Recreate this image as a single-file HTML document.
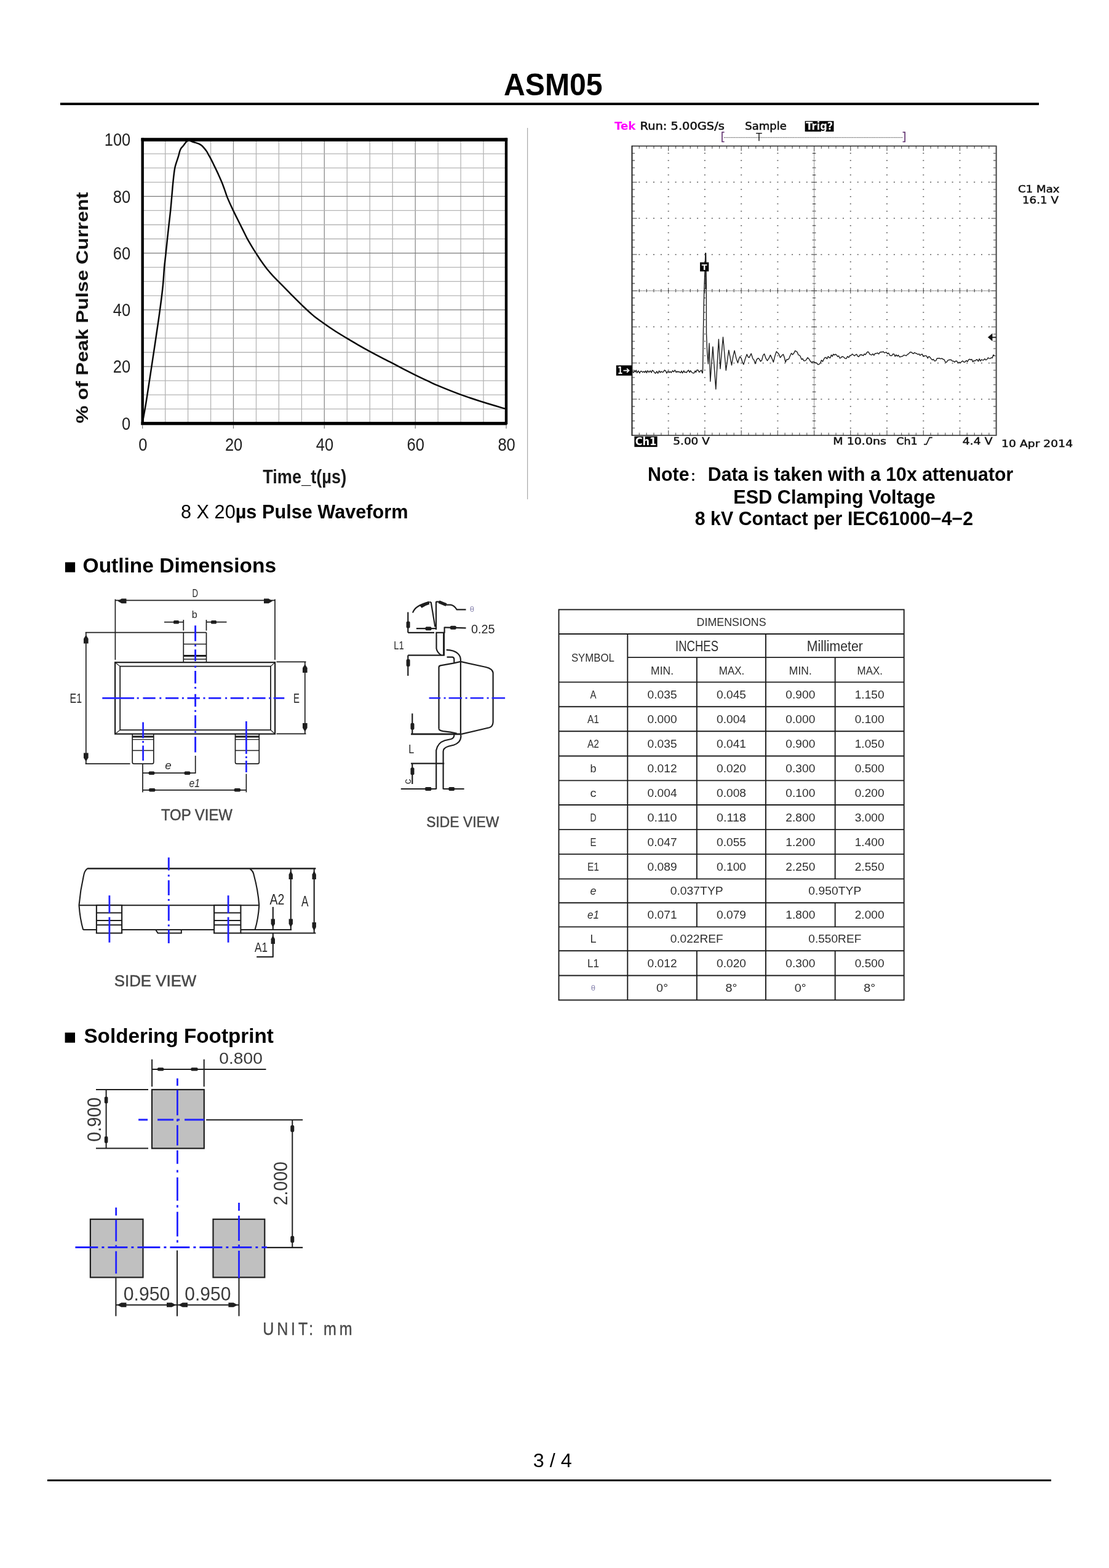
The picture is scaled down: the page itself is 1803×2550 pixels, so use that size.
<!DOCTYPE html>
<html lang="en"><head><meta charset="utf-8"><title>ASM05 - page 3</title>
<style>
html,body{margin:0;padding:0;background:#fff;}
body{width:1803px;height:2550px;overflow:hidden;font-family:"Liberation Sans",Arial,sans-serif;}
svg{display:block;font-family:"Liberation Sans",Arial,sans-serif;}
</style></head><body>
<svg width="1803" height="2550" viewBox="0 0 1803 2550">
<rect width="1803" height="2550" fill="#fff"/>
<g id="sec_chart">
<text x="899.3" y="155.3" font-size="50" fill="#000" font-weight="bold" text-anchor="middle" textLength="160.7" lengthAdjust="spacingAndGlyphs">ASM05</text>
<rect x="98.0" y="167.0" width="1591.0" height="4.0" fill="#000" stroke="none" stroke-width="1" />
<rect x="857.0" y="208.0" width="1.2" height="604.0" fill="#a8a8a8" stroke="none" stroke-width="1" />
<line x1="268.7" y1="227.1" x2="268.7" y2="688.3" stroke="#b4b4b4" stroke-width="1.3" />
<line x1="305.6" y1="227.1" x2="305.6" y2="688.3" stroke="#b4b4b4" stroke-width="1.3" />
<line x1="342.6" y1="227.1" x2="342.6" y2="688.3" stroke="#b4b4b4" stroke-width="1.3" />
<line x1="379.5" y1="227.1" x2="379.5" y2="688.3" stroke="#8c8c8c" stroke-width="1.3" />
<line x1="416.5" y1="227.1" x2="416.5" y2="688.3" stroke="#b4b4b4" stroke-width="1.3" />
<line x1="453.4" y1="227.1" x2="453.4" y2="688.3" stroke="#b4b4b4" stroke-width="1.3" />
<line x1="490.4" y1="227.1" x2="490.4" y2="688.3" stroke="#b4b4b4" stroke-width="1.3" />
<line x1="527.3" y1="227.1" x2="527.3" y2="688.3" stroke="#8c8c8c" stroke-width="1.3" />
<line x1="564.3" y1="227.1" x2="564.3" y2="688.3" stroke="#b4b4b4" stroke-width="1.3" />
<line x1="601.3" y1="227.1" x2="601.3" y2="688.3" stroke="#b4b4b4" stroke-width="1.3" />
<line x1="638.2" y1="227.1" x2="638.2" y2="688.3" stroke="#b4b4b4" stroke-width="1.3" />
<line x1="675.2" y1="227.1" x2="675.2" y2="688.3" stroke="#8c8c8c" stroke-width="1.3" />
<line x1="712.1" y1="227.1" x2="712.1" y2="688.3" stroke="#b4b4b4" stroke-width="1.3" />
<line x1="749.1" y1="227.1" x2="749.1" y2="688.3" stroke="#b4b4b4" stroke-width="1.3" />
<line x1="786.0" y1="227.1" x2="786.0" y2="688.3" stroke="#b4b4b4" stroke-width="1.3" />
<line x1="231.7" y1="665.2" x2="823.0" y2="665.2" stroke="#b4b4b4" stroke-width="1.3" />
<line x1="231.7" y1="642.2" x2="823.0" y2="642.2" stroke="#b4b4b4" stroke-width="1.3" />
<line x1="231.7" y1="619.1" x2="823.0" y2="619.1" stroke="#b4b4b4" stroke-width="1.3" />
<line x1="231.7" y1="596.1" x2="823.0" y2="596.1" stroke="#7a7a7a" stroke-width="1.3" />
<line x1="231.7" y1="573.0" x2="823.0" y2="573.0" stroke="#b4b4b4" stroke-width="1.3" />
<line x1="231.7" y1="549.9" x2="823.0" y2="549.9" stroke="#b4b4b4" stroke-width="1.3" />
<line x1="231.7" y1="526.9" x2="823.0" y2="526.9" stroke="#b4b4b4" stroke-width="1.3" />
<line x1="231.7" y1="503.8" x2="823.0" y2="503.8" stroke="#7a7a7a" stroke-width="1.3" />
<line x1="231.7" y1="480.8" x2="823.0" y2="480.8" stroke="#b4b4b4" stroke-width="1.3" />
<line x1="231.7" y1="457.7" x2="823.0" y2="457.7" stroke="#b4b4b4" stroke-width="1.3" />
<line x1="231.7" y1="434.6" x2="823.0" y2="434.6" stroke="#b4b4b4" stroke-width="1.3" />
<line x1="231.7" y1="411.6" x2="823.0" y2="411.6" stroke="#7a7a7a" stroke-width="1.3" />
<line x1="231.7" y1="388.5" x2="823.0" y2="388.5" stroke="#b4b4b4" stroke-width="1.3" />
<line x1="231.7" y1="365.5" x2="823.0" y2="365.5" stroke="#b4b4b4" stroke-width="1.3" />
<line x1="231.7" y1="342.4" x2="823.0" y2="342.4" stroke="#b4b4b4" stroke-width="1.3" />
<line x1="231.7" y1="319.3" x2="823.0" y2="319.3" stroke="#7a7a7a" stroke-width="1.3" />
<line x1="231.7" y1="296.3" x2="823.0" y2="296.3" stroke="#b4b4b4" stroke-width="1.3" />
<line x1="231.7" y1="273.2" x2="823.0" y2="273.2" stroke="#b4b4b4" stroke-width="1.3" />
<line x1="231.7" y1="250.2" x2="823.0" y2="250.2" stroke="#b4b4b4" stroke-width="1.3" />
<path d="M231.9,686.0 C232.9,680.3 235.3,668.4 237.9,652.0 C240.5,635.6 244.4,609.7 247.7,587.9 C251.0,566.1 254.8,540.9 257.6,521.3 C260.4,501.6 262.7,484.4 264.3,470.0 C265.9,455.6 266.2,444.7 267.1,435.1 C268.0,425.5 268.8,420.2 269.6,412.4 C270.4,404.6 271.3,396.0 272.1,388.2 C272.9,380.4 273.8,373.0 274.6,365.6 C275.4,358.2 276.3,351.3 277.1,343.6 C277.9,335.9 278.6,327.2 279.3,319.5 C280.0,311.8 280.5,304.9 281.3,297.1 C282.1,289.3 282.9,280.0 284.3,272.9 C285.8,265.8 288.7,258.9 290.0,254.4 C291.3,249.9 291.5,248.3 292.2,246.1 C292.9,243.9 293.5,242.6 294.4,241.1 C295.3,239.6 296.7,238.6 297.8,237.2 C298.9,235.8 300.1,234.1 301.1,232.8 C302.1,231.5 302.8,230.3 303.9,229.6 C305.0,228.9 306.1,228.5 307.5,228.6 C308.9,228.7 310.5,229.8 312.2,230.3 C313.9,230.9 315.8,231.3 317.7,231.9 C319.6,232.5 321.6,233.1 323.3,233.9 C325.0,234.7 326.2,235.4 327.7,236.6 C329.2,237.8 330.7,239.5 332.1,241.1 C333.5,242.7 334.9,244.5 336.0,246.1 C337.1,247.7 337.5,248.9 338.6,250.8 C339.7,252.7 341.1,255.2 342.4,257.7 C343.7,260.2 345.4,263.5 346.6,266.0 C347.8,268.5 348.3,269.5 349.8,272.6 C351.3,275.7 353.6,280.4 355.4,284.4 C357.2,288.4 359.2,292.8 360.8,296.8 C362.4,300.8 363.8,304.8 365.2,308.6 C366.6,312.4 367.5,315.8 369.0,319.6 C370.5,323.4 372.3,327.4 374.0,331.2 C375.7,335.0 376.8,337.5 379.3,342.6 C381.8,347.7 386.1,356.4 388.8,361.8 C391.5,367.2 393.3,370.7 395.5,375.1 C397.7,379.5 399.6,383.8 402.1,388.4 C404.6,392.9 407.9,398.4 410.3,402.4 C412.7,406.4 414.1,408.6 416.6,412.4 C419.1,416.2 422.2,421.2 425.1,425.3 C428.0,429.4 430.8,433.4 433.9,437.2 C437.0,441.0 440.2,444.7 443.5,448.3 C446.8,451.9 448.7,453.7 453.5,458.6 C458.3,463.5 465.9,471.4 472.1,477.6 C478.3,483.8 484.4,490.1 490.5,495.9 C496.6,501.7 502.6,507.6 508.7,512.6 C514.8,517.7 520.9,521.8 527.0,526.2 C533.1,530.6 539.3,534.8 545.4,538.8 C551.5,542.8 557.5,546.2 563.6,549.9 C569.7,553.6 575.9,557.2 582.1,560.8 C588.3,564.4 594.6,567.9 600.9,571.3 C607.2,574.7 613.6,578.1 619.8,581.3 C626.0,584.5 631.9,587.4 638.0,590.6 C644.1,593.8 650.2,597.2 656.4,600.4 C662.6,603.6 668.6,606.6 675.1,609.8 C681.6,613.0 689.0,616.5 695.2,619.4 C701.4,622.3 703.1,623.5 712.1,627.2 C721.1,631.0 736.9,637.4 749.3,641.9 C761.7,646.4 774.4,650.5 786.4,654.3 C798.4,658.1 815.2,662.9 821.0,664.6" stroke="#0a0a0a" stroke-width="2.5" fill="none" stroke-linejoin="round"/>
<rect x="229.5" y="224.3" width="595.7" height="5.6" fill="#000" stroke="none" stroke-width="1" rx="1"/>
<rect x="229.5" y="224.3" width="4.4" height="466.7" fill="#000" stroke="none" stroke-width="1" />
<rect x="820.8" y="224.3" width="4.4" height="465.7" fill="#000" stroke="none" stroke-width="1" />
<rect x="229.5" y="686.0" width="594.7" height="5.3" fill="#000" stroke="none" stroke-width="1" />
<rect x="231.1" y="691.0" width="1.2" height="6.0" fill="#777" stroke="none" stroke-width="1" />
<rect x="378.9" y="691.0" width="1.2" height="6.0" fill="#777" stroke="none" stroke-width="1" />
<rect x="526.7" y="691.0" width="1.2" height="6.0" fill="#777" stroke="none" stroke-width="1" />
<rect x="674.6" y="691.0" width="1.2" height="6.0" fill="#777" stroke="none" stroke-width="1" />
<rect x="822.4" y="691.0" width="1.2" height="6.0" fill="#777" stroke="none" stroke-width="1" />
<text x="212.2" y="698.5" font-size="30.2" fill="#222" text-anchor="end" textLength="14.2" lengthAdjust="spacingAndGlyphs">0</text>
<text x="212.2" y="606.3" font-size="30.2" fill="#222" text-anchor="end" textLength="28.4" lengthAdjust="spacingAndGlyphs">20</text>
<text x="212.2" y="514.0" font-size="30.2" fill="#222" text-anchor="end" textLength="28.4" lengthAdjust="spacingAndGlyphs">40</text>
<text x="212.2" y="421.8" font-size="30.2" fill="#222" text-anchor="end" textLength="28.4" lengthAdjust="spacingAndGlyphs">60</text>
<text x="212.2" y="329.5" font-size="30.2" fill="#222" text-anchor="end" textLength="28.4" lengthAdjust="spacingAndGlyphs">80</text>
<text x="212.2" y="237.3" font-size="30.2" fill="#222" text-anchor="end" textLength="42.4" lengthAdjust="spacingAndGlyphs">100</text>
<text x="232.3" y="732.6" font-size="30.4" fill="#222" text-anchor="middle" textLength="14.2" lengthAdjust="spacingAndGlyphs">0</text>
<text x="380.1" y="732.6" font-size="30.4" fill="#222" text-anchor="middle" textLength="28.4" lengthAdjust="spacingAndGlyphs">20</text>
<text x="527.9" y="732.6" font-size="30.4" fill="#222" text-anchor="middle" textLength="28.4" lengthAdjust="spacingAndGlyphs">40</text>
<text x="675.8" y="732.6" font-size="30.4" fill="#222" text-anchor="middle" textLength="28.4" lengthAdjust="spacingAndGlyphs">60</text>
<text x="823.6" y="732.6" font-size="30.4" fill="#222" text-anchor="middle" textLength="28.4" lengthAdjust="spacingAndGlyphs">80</text>
<text x="495.2" y="785.6" font-size="31" fill="#1a1a1a" font-weight="bold" text-anchor="middle" textLength="136.0" lengthAdjust="spacingAndGlyphs">Time_t(µs)</text>
<g transform="translate(142.5,688.5) rotate(-90)"><text x="0.0" y="0.0" font-size="27.2" fill="#111" font-weight="bold" textLength="376.0" lengthAdjust="spacingAndGlyphs">% of Peak Pulse Current</text></g>
<text x="294.0" y="842.5" font-size="30.5" fill="#000" textLength="369.5" lengthAdjust="spacingAndGlyphs">8 X 20<tspan font-weight="bold">µs Pulse Waveform</tspan></text>
</g>
<g id="sec_scope">
<path d="M1085.7,249.3h2M1085.7,261.0h2M1085.7,272.8h2M1085.7,284.6h2M1085.7,296.3h2M1085.7,308.1h2M1085.7,319.8h2M1085.7,331.6h2M1085.7,343.4h2M1085.7,355.1h2M1085.7,366.9h2M1085.7,378.6h2M1085.7,390.4h2M1085.7,402.2h2M1085.7,413.9h2M1085.7,425.7h2M1085.7,437.5h2M1085.7,449.2h2M1085.7,461.0h2M1085.7,472.8h2M1085.7,484.5h2M1085.7,496.3h2M1085.7,508.0h2M1085.7,519.8h2M1085.7,531.6h2M1085.7,543.3h2M1085.7,555.1h2M1085.7,566.8h2M1085.7,578.6h2M1085.7,590.4h2M1085.7,602.1h2M1085.7,613.9h2M1085.7,625.7h2M1085.7,637.4h2M1085.7,649.2h2M1085.7,661.0h2M1085.7,672.7h2M1085.7,684.5h2M1085.7,696.2h2M1144.9,249.3h2M1144.9,261.0h2M1144.9,272.8h2M1144.9,284.6h2M1144.9,296.3h2M1144.9,308.1h2M1144.9,319.8h2M1144.9,331.6h2M1144.9,343.4h2M1144.9,355.1h2M1144.9,366.9h2M1144.9,378.6h2M1144.9,390.4h2M1144.9,402.2h2M1144.9,413.9h2M1144.9,425.7h2M1144.9,437.5h2M1144.9,449.2h2M1144.9,461.0h2M1144.9,472.8h2M1144.9,484.5h2M1144.9,496.3h2M1144.9,508.0h2M1144.9,519.8h2M1144.9,531.6h2M1144.9,543.3h2M1144.9,555.1h2M1144.9,566.8h2M1144.9,578.6h2M1144.9,590.4h2M1144.9,602.1h2M1144.9,613.9h2M1144.9,625.7h2M1144.9,637.4h2M1144.9,649.2h2M1144.9,661.0h2M1144.9,672.7h2M1144.9,684.5h2M1144.9,696.2h2M1204.2,249.3h2M1204.2,261.0h2M1204.2,272.8h2M1204.2,284.6h2M1204.2,296.3h2M1204.2,308.1h2M1204.2,319.8h2M1204.2,331.6h2M1204.2,343.4h2M1204.2,355.1h2M1204.2,366.9h2M1204.2,378.6h2M1204.2,390.4h2M1204.2,402.2h2M1204.2,413.9h2M1204.2,425.7h2M1204.2,437.5h2M1204.2,449.2h2M1204.2,461.0h2M1204.2,472.8h2M1204.2,484.5h2M1204.2,496.3h2M1204.2,508.0h2M1204.2,519.8h2M1204.2,531.6h2M1204.2,543.3h2M1204.2,555.1h2M1204.2,566.8h2M1204.2,578.6h2M1204.2,590.4h2M1204.2,602.1h2M1204.2,613.9h2M1204.2,625.7h2M1204.2,637.4h2M1204.2,649.2h2M1204.2,661.0h2M1204.2,672.7h2M1204.2,684.5h2M1204.2,696.2h2M1263.4,249.3h2M1263.4,261.0h2M1263.4,272.8h2M1263.4,284.6h2M1263.4,296.3h2M1263.4,308.1h2M1263.4,319.8h2M1263.4,331.6h2M1263.4,343.4h2M1263.4,355.1h2M1263.4,366.9h2M1263.4,378.6h2M1263.4,390.4h2M1263.4,402.2h2M1263.4,413.9h2M1263.4,425.7h2M1263.4,437.5h2M1263.4,449.2h2M1263.4,461.0h2M1263.4,472.8h2M1263.4,484.5h2M1263.4,496.3h2M1263.4,508.0h2M1263.4,519.8h2M1263.4,531.6h2M1263.4,543.3h2M1263.4,555.1h2M1263.4,566.8h2M1263.4,578.6h2M1263.4,590.4h2M1263.4,602.1h2M1263.4,613.9h2M1263.4,625.7h2M1263.4,637.4h2M1263.4,649.2h2M1263.4,661.0h2M1263.4,672.7h2M1263.4,684.5h2M1263.4,696.2h2M1381.8,249.3h2M1381.8,261.0h2M1381.8,272.8h2M1381.8,284.6h2M1381.8,296.3h2M1381.8,308.1h2M1381.8,319.8h2M1381.8,331.6h2M1381.8,343.4h2M1381.8,355.1h2M1381.8,366.9h2M1381.8,378.6h2M1381.8,390.4h2M1381.8,402.2h2M1381.8,413.9h2M1381.8,425.7h2M1381.8,437.5h2M1381.8,449.2h2M1381.8,461.0h2M1381.8,472.8h2M1381.8,484.5h2M1381.8,496.3h2M1381.8,508.0h2M1381.8,519.8h2M1381.8,531.6h2M1381.8,543.3h2M1381.8,555.1h2M1381.8,566.8h2M1381.8,578.6h2M1381.8,590.4h2M1381.8,602.1h2M1381.8,613.9h2M1381.8,625.7h2M1381.8,637.4h2M1381.8,649.2h2M1381.8,661.0h2M1381.8,672.7h2M1381.8,684.5h2M1381.8,696.2h2M1441.0,249.3h2M1441.0,261.0h2M1441.0,272.8h2M1441.0,284.6h2M1441.0,296.3h2M1441.0,308.1h2M1441.0,319.8h2M1441.0,331.6h2M1441.0,343.4h2M1441.0,355.1h2M1441.0,366.9h2M1441.0,378.6h2M1441.0,390.4h2M1441.0,402.2h2M1441.0,413.9h2M1441.0,425.7h2M1441.0,437.5h2M1441.0,449.2h2M1441.0,461.0h2M1441.0,472.8h2M1441.0,484.5h2M1441.0,496.3h2M1441.0,508.0h2M1441.0,519.8h2M1441.0,531.6h2M1441.0,543.3h2M1441.0,555.1h2M1441.0,566.8h2M1441.0,578.6h2M1441.0,590.4h2M1441.0,602.1h2M1441.0,613.9h2M1441.0,625.7h2M1441.0,637.4h2M1441.0,649.2h2M1441.0,661.0h2M1441.0,672.7h2M1441.0,684.5h2M1441.0,696.2h2M1500.3,249.3h2M1500.3,261.0h2M1500.3,272.8h2M1500.3,284.6h2M1500.3,296.3h2M1500.3,308.1h2M1500.3,319.8h2M1500.3,331.6h2M1500.3,343.4h2M1500.3,355.1h2M1500.3,366.9h2M1500.3,378.6h2M1500.3,390.4h2M1500.3,402.2h2M1500.3,413.9h2M1500.3,425.7h2M1500.3,437.5h2M1500.3,449.2h2M1500.3,461.0h2M1500.3,472.8h2M1500.3,484.5h2M1500.3,496.3h2M1500.3,508.0h2M1500.3,519.8h2M1500.3,531.6h2M1500.3,543.3h2M1500.3,555.1h2M1500.3,566.8h2M1500.3,578.6h2M1500.3,590.4h2M1500.3,602.1h2M1500.3,613.9h2M1500.3,625.7h2M1500.3,637.4h2M1500.3,649.2h2M1500.3,661.0h2M1500.3,672.7h2M1500.3,684.5h2M1500.3,696.2h2M1559.5,249.3h2M1559.5,261.0h2M1559.5,272.8h2M1559.5,284.6h2M1559.5,296.3h2M1559.5,308.1h2M1559.5,319.8h2M1559.5,331.6h2M1559.5,343.4h2M1559.5,355.1h2M1559.5,366.9h2M1559.5,378.6h2M1559.5,390.4h2M1559.5,402.2h2M1559.5,413.9h2M1559.5,425.7h2M1559.5,437.5h2M1559.5,449.2h2M1559.5,461.0h2M1559.5,472.8h2M1559.5,484.5h2M1559.5,496.3h2M1559.5,508.0h2M1559.5,519.8h2M1559.5,531.6h2M1559.5,543.3h2M1559.5,555.1h2M1559.5,566.8h2M1559.5,578.6h2M1559.5,590.4h2M1559.5,602.1h2M1559.5,613.9h2M1559.5,625.7h2M1559.5,637.4h2M1559.5,649.2h2M1559.5,661.0h2M1559.5,672.7h2M1559.5,684.5h2M1559.5,696.2h2M1038.3,296.3h2M1050.2,296.3h2M1062.0,296.3h2M1073.9,296.3h2M1097.6,296.3h2M1109.4,296.3h2M1121.3,296.3h2M1133.1,296.3h2M1156.8,296.3h2M1168.6,296.3h2M1180.5,296.3h2M1192.3,296.3h2M1216.0,296.3h2M1227.8,296.3h2M1239.7,296.3h2M1251.5,296.3h2M1275.2,296.3h2M1287.1,296.3h2M1298.9,296.3h2M1310.8,296.3h2M1334.4,296.3h2M1346.3,296.3h2M1358.1,296.3h2M1370.0,296.3h2M1393.7,296.3h2M1405.5,296.3h2M1417.4,296.3h2M1429.2,296.3h2M1452.9,296.3h2M1464.7,296.3h2M1476.6,296.3h2M1488.4,296.3h2M1512.1,296.3h2M1523.9,296.3h2M1535.8,296.3h2M1547.6,296.3h2M1571.3,296.3h2M1583.2,296.3h2M1595.0,296.3h2M1606.9,296.3h2M1038.3,355.1h2M1050.2,355.1h2M1062.0,355.1h2M1073.9,355.1h2M1097.6,355.1h2M1109.4,355.1h2M1121.3,355.1h2M1133.1,355.1h2M1156.8,355.1h2M1168.6,355.1h2M1180.5,355.1h2M1192.3,355.1h2M1216.0,355.1h2M1227.8,355.1h2M1239.7,355.1h2M1251.5,355.1h2M1275.2,355.1h2M1287.1,355.1h2M1298.9,355.1h2M1310.8,355.1h2M1334.4,355.1h2M1346.3,355.1h2M1358.1,355.1h2M1370.0,355.1h2M1393.7,355.1h2M1405.5,355.1h2M1417.4,355.1h2M1429.2,355.1h2M1452.9,355.1h2M1464.7,355.1h2M1476.6,355.1h2M1488.4,355.1h2M1512.1,355.1h2M1523.9,355.1h2M1535.8,355.1h2M1547.6,355.1h2M1571.3,355.1h2M1583.2,355.1h2M1595.0,355.1h2M1606.9,355.1h2M1038.3,413.9h2M1050.2,413.9h2M1062.0,413.9h2M1073.9,413.9h2M1097.6,413.9h2M1109.4,413.9h2M1121.3,413.9h2M1133.1,413.9h2M1156.8,413.9h2M1168.6,413.9h2M1180.5,413.9h2M1192.3,413.9h2M1216.0,413.9h2M1227.8,413.9h2M1239.7,413.9h2M1251.5,413.9h2M1275.2,413.9h2M1287.1,413.9h2M1298.9,413.9h2M1310.8,413.9h2M1334.4,413.9h2M1346.3,413.9h2M1358.1,413.9h2M1370.0,413.9h2M1393.7,413.9h2M1405.5,413.9h2M1417.4,413.9h2M1429.2,413.9h2M1452.9,413.9h2M1464.7,413.9h2M1476.6,413.9h2M1488.4,413.9h2M1512.1,413.9h2M1523.9,413.9h2M1535.8,413.9h2M1547.6,413.9h2M1571.3,413.9h2M1583.2,413.9h2M1595.0,413.9h2M1606.9,413.9h2M1038.3,531.6h2M1050.2,531.6h2M1062.0,531.6h2M1073.9,531.6h2M1097.6,531.6h2M1109.4,531.6h2M1121.3,531.6h2M1133.1,531.6h2M1156.8,531.6h2M1168.6,531.6h2M1180.5,531.6h2M1192.3,531.6h2M1216.0,531.6h2M1227.8,531.6h2M1239.7,531.6h2M1251.5,531.6h2M1275.2,531.6h2M1287.1,531.6h2M1298.9,531.6h2M1310.8,531.6h2M1334.4,531.6h2M1346.3,531.6h2M1358.1,531.6h2M1370.0,531.6h2M1393.7,531.6h2M1405.5,531.6h2M1417.4,531.6h2M1429.2,531.6h2M1452.9,531.6h2M1464.7,531.6h2M1476.6,531.6h2M1488.4,531.6h2M1512.1,531.6h2M1523.9,531.6h2M1535.8,531.6h2M1547.6,531.6h2M1571.3,531.6h2M1583.2,531.6h2M1595.0,531.6h2M1606.9,531.6h2M1038.3,590.4h2M1050.2,590.4h2M1062.0,590.4h2M1073.9,590.4h2M1097.6,590.4h2M1109.4,590.4h2M1121.3,590.4h2M1133.1,590.4h2M1156.8,590.4h2M1168.6,590.4h2M1180.5,590.4h2M1192.3,590.4h2M1216.0,590.4h2M1227.8,590.4h2M1239.7,590.4h2M1251.5,590.4h2M1275.2,590.4h2M1287.1,590.4h2M1298.9,590.4h2M1310.8,590.4h2M1334.4,590.4h2M1346.3,590.4h2M1358.1,590.4h2M1370.0,590.4h2M1393.7,590.4h2M1405.5,590.4h2M1417.4,590.4h2M1429.2,590.4h2M1452.9,590.4h2M1464.7,590.4h2M1476.6,590.4h2M1488.4,590.4h2M1512.1,590.4h2M1523.9,590.4h2M1535.8,590.4h2M1547.6,590.4h2M1571.3,590.4h2M1583.2,590.4h2M1595.0,590.4h2M1606.9,590.4h2M1038.3,649.2h2M1050.2,649.2h2M1062.0,649.2h2M1073.9,649.2h2M1097.6,649.2h2M1109.4,649.2h2M1121.3,649.2h2M1133.1,649.2h2M1156.8,649.2h2M1168.6,649.2h2M1180.5,649.2h2M1192.3,649.2h2M1216.0,649.2h2M1227.8,649.2h2M1239.7,649.2h2M1251.5,649.2h2M1275.2,649.2h2M1287.1,649.2h2M1298.9,649.2h2M1310.8,649.2h2M1334.4,649.2h2M1346.3,649.2h2M1358.1,649.2h2M1370.0,649.2h2M1393.7,649.2h2M1405.5,649.2h2M1417.4,649.2h2M1429.2,649.2h2M1452.9,649.2h2M1464.7,649.2h2M1476.6,649.2h2M1488.4,649.2h2M1512.1,649.2h2M1523.9,649.2h2M1535.8,649.2h2M1547.6,649.2h2M1571.3,649.2h2M1583.2,649.2h2M1595.0,649.2h2M1606.9,649.2h2" stroke="#5c5c5c" stroke-width="1.5" fill="none" />
<line x1="1027.5" y1="472.8" x2="1619.7" y2="472.8" stroke="#555" stroke-width="1.3" stroke-dasharray="1.3 1.2"/>
<line x1="1323.6" y1="237.5" x2="1323.6" y2="708.0" stroke="#555" stroke-width="1.3" stroke-dasharray="1.3 1.2"/>
<path d="M1039.3,470.1v5.2M1051.2,470.1v5.2M1063.0,470.1v5.2M1074.9,470.1v5.2M1086.7,468.2v9.0M1098.6,470.1v5.2M1110.4,470.1v5.2M1122.3,470.1v5.2M1134.1,470.1v5.2M1145.9,468.2v9.0M1157.8,470.1v5.2M1169.6,470.1v5.2M1181.5,470.1v5.2M1193.3,470.1v5.2M1205.2,468.2v9.0M1217.0,470.1v5.2M1228.8,470.1v5.2M1240.7,470.1v5.2M1252.5,470.1v5.2M1264.4,468.2v9.0M1276.2,470.1v5.2M1288.1,470.1v5.2M1299.9,470.1v5.2M1311.8,470.1v5.2M1323.6,468.2v9.0M1335.4,470.1v5.2M1347.3,470.1v5.2M1359.1,470.1v5.2M1371.0,470.1v5.2M1382.8,468.2v9.0M1394.7,470.1v5.2M1406.5,470.1v5.2M1418.4,470.1v5.2M1430.2,470.1v5.2M1442.0,468.2v9.0M1453.9,470.1v5.2M1465.7,470.1v5.2M1477.6,470.1v5.2M1489.4,470.1v5.2M1501.3,468.2v9.0M1513.1,470.1v5.2M1524.9,470.1v5.2M1536.8,470.1v5.2M1548.6,470.1v5.2M1560.5,468.2v9.0M1572.3,470.1v5.2M1584.2,470.1v5.2M1596.0,470.1v5.2M1607.9,470.1v5.2M1320.8,249.3h5.6M1320.8,261.0h5.6M1320.8,272.8h5.6M1320.8,284.6h5.6M1319.1,296.3h9.0M1320.8,308.1h5.6M1320.8,319.8h5.6M1320.8,331.6h5.6M1320.8,343.4h5.6M1319.1,355.1h9.0M1320.8,366.9h5.6M1320.8,378.6h5.6M1320.8,390.4h5.6M1320.8,402.2h5.6M1319.1,413.9h9.0M1320.8,425.7h5.6M1320.8,437.5h5.6M1320.8,449.2h5.6M1320.8,461.0h5.6M1319.1,472.8h9.0M1320.8,484.5h5.6M1320.8,496.3h5.6M1320.8,508.0h5.6M1320.8,519.8h5.6M1319.1,531.6h9.0M1320.8,543.3h5.6M1320.8,555.1h5.6M1320.8,566.8h5.6M1320.8,578.6h5.6M1319.1,590.4h9.0M1320.8,602.1h5.6M1320.8,613.9h5.6M1320.8,625.7h5.6M1320.8,637.4h5.6M1319.1,649.2h9.0M1320.8,661.0h5.6M1320.8,672.7h5.6M1320.8,684.5h5.6M1320.8,696.2h5.6" stroke="#555" stroke-width="1.2" fill="none" />
<path d="M1039.3,237.5v4.2M1039.3,708.0v-4.2M1051.2,237.5v4.2M1051.2,708.0v-4.2M1063.0,237.5v4.2M1063.0,708.0v-4.2M1074.9,237.5v4.2M1074.9,708.0v-4.2M1086.7,237.5v8M1086.7,708.0v-8M1098.6,237.5v4.2M1098.6,708.0v-4.2M1110.4,237.5v4.2M1110.4,708.0v-4.2M1122.3,237.5v4.2M1122.3,708.0v-4.2M1134.1,237.5v4.2M1134.1,708.0v-4.2M1145.9,237.5v8M1145.9,708.0v-8M1157.8,237.5v4.2M1157.8,708.0v-4.2M1169.6,237.5v4.2M1169.6,708.0v-4.2M1181.5,237.5v4.2M1181.5,708.0v-4.2M1193.3,237.5v4.2M1193.3,708.0v-4.2M1205.2,237.5v8M1205.2,708.0v-8M1217.0,237.5v4.2M1217.0,708.0v-4.2M1228.8,237.5v4.2M1228.8,708.0v-4.2M1240.7,237.5v4.2M1240.7,708.0v-4.2M1252.5,237.5v4.2M1252.5,708.0v-4.2M1264.4,237.5v8M1264.4,708.0v-8M1276.2,237.5v4.2M1276.2,708.0v-4.2M1288.1,237.5v4.2M1288.1,708.0v-4.2M1299.9,237.5v4.2M1299.9,708.0v-4.2M1311.8,237.5v4.2M1311.8,708.0v-4.2M1323.6,237.5v8M1323.6,708.0v-8M1335.4,237.5v4.2M1335.4,708.0v-4.2M1347.3,237.5v4.2M1347.3,708.0v-4.2M1359.1,237.5v4.2M1359.1,708.0v-4.2M1371.0,237.5v4.2M1371.0,708.0v-4.2M1382.8,237.5v8M1382.8,708.0v-8M1394.7,237.5v4.2M1394.7,708.0v-4.2M1406.5,237.5v4.2M1406.5,708.0v-4.2M1418.4,237.5v4.2M1418.4,708.0v-4.2M1430.2,237.5v4.2M1430.2,708.0v-4.2M1442.0,237.5v8M1442.0,708.0v-8M1453.9,237.5v4.2M1453.9,708.0v-4.2M1465.7,237.5v4.2M1465.7,708.0v-4.2M1477.6,237.5v4.2M1477.6,708.0v-4.2M1489.4,237.5v4.2M1489.4,708.0v-4.2M1501.3,237.5v8M1501.3,708.0v-8M1513.1,237.5v4.2M1513.1,708.0v-4.2M1524.9,237.5v4.2M1524.9,708.0v-4.2M1536.8,237.5v4.2M1536.8,708.0v-4.2M1548.6,237.5v4.2M1548.6,708.0v-4.2M1560.5,237.5v8M1560.5,708.0v-8M1572.3,237.5v4.2M1572.3,708.0v-4.2M1584.2,237.5v4.2M1584.2,708.0v-4.2M1596.0,237.5v4.2M1596.0,708.0v-4.2M1607.9,237.5v4.2M1607.9,708.0v-4.2M1027.5,249.3h4.6M1619.7,249.3h-4.6M1027.5,261.0h4.6M1619.7,261.0h-4.6M1027.5,272.8h4.6M1619.7,272.8h-4.6M1027.5,284.6h4.6M1619.7,284.6h-4.6M1027.5,296.3h8M1619.7,296.3h-8M1027.5,308.1h4.6M1619.7,308.1h-4.6M1027.5,319.8h4.6M1619.7,319.8h-4.6M1027.5,331.6h4.6M1619.7,331.6h-4.6M1027.5,343.4h4.6M1619.7,343.4h-4.6M1027.5,355.1h8M1619.7,355.1h-8M1027.5,366.9h4.6M1619.7,366.9h-4.6M1027.5,378.6h4.6M1619.7,378.6h-4.6M1027.5,390.4h4.6M1619.7,390.4h-4.6M1027.5,402.2h4.6M1619.7,402.2h-4.6M1027.5,413.9h8M1619.7,413.9h-8M1027.5,425.7h4.6M1619.7,425.7h-4.6M1027.5,437.5h4.6M1619.7,437.5h-4.6M1027.5,449.2h4.6M1619.7,449.2h-4.6M1027.5,461.0h4.6M1619.7,461.0h-4.6M1027.5,472.8h8M1619.7,472.8h-8M1027.5,484.5h4.6M1619.7,484.5h-4.6M1027.5,496.3h4.6M1619.7,496.3h-4.6M1027.5,508.0h4.6M1619.7,508.0h-4.6M1027.5,519.8h4.6M1619.7,519.8h-4.6M1027.5,531.6h8M1619.7,531.6h-8M1027.5,543.3h4.6M1619.7,543.3h-4.6M1027.5,555.1h4.6M1619.7,555.1h-4.6M1027.5,566.8h4.6M1619.7,566.8h-4.6M1027.5,578.6h4.6M1619.7,578.6h-4.6M1027.5,590.4h8M1619.7,590.4h-8M1027.5,602.1h4.6M1619.7,602.1h-4.6M1027.5,613.9h4.6M1619.7,613.9h-4.6M1027.5,625.7h4.6M1619.7,625.7h-4.6M1027.5,637.4h4.6M1619.7,637.4h-4.6M1027.5,649.2h8M1619.7,649.2h-8M1027.5,661.0h4.6M1619.7,661.0h-4.6M1027.5,672.7h4.6M1619.7,672.7h-4.6M1027.5,684.5h4.6M1619.7,684.5h-4.6M1027.5,696.2h4.6M1619.7,696.2h-4.6" stroke="#6a6a6a" stroke-width="1.3" fill="none" />
<line x1="1027.5" y1="236.7" x2="1027.5" y2="708.7" stroke="#2a2a2a" stroke-width="2.1" />
<line x1="1027.5" y1="237.5" x2="1619.7" y2="237.5" stroke="#222" stroke-width="1.6" />
<line x1="1027.5" y1="708.0" x2="1619.7" y2="708.0" stroke="#222" stroke-width="1.4" />
<line x1="1619.7" y1="236.7" x2="1619.7" y2="708.7" stroke="#555" stroke-width="2.2" />
<path d="M1028.0,603.7 L1029.9,606.0 L1031.5,602.8 L1032.8,604.9 L1034.2,602.0 L1035.6,606.3 L1037.8,603.1 L1040.0,606.8 L1041.5,603.8 L1043.1,603.6 L1044.9,605.6 L1046.7,604.0 L1048.2,605.8 L1049.8,603.0 L1051.4,606.4 L1052.9,602.8 L1055.0,605.4 L1057.2,603.1 L1059.1,605.9 L1060.5,602.2 L1062.3,603.3 L1064.2,606.1 L1065.9,607.1 L1067.7,603.9 L1069.6,607.2 L1071.6,603.1 L1073.5,605.9 L1075.0,604.0 L1077.0,605.3 L1078.6,604.9 L1080.3,601.9 L1082.4,603.4 L1084.0,606.9 L1086.2,603.7 L1087.7,605.9 L1089.5,604.1 L1091.2,606.1 L1093.4,602.8 L1095.2,604.8 L1097.3,601.9 L1099.4,605.7 L1100.7,603.9 L1102.1,605.1 L1103.7,604.1 L1105.1,605.6 L1106.5,606.2 L1107.9,603.2 L1109.5,606.8 L1111.7,602.9 L1113.1,605.6 L1114.6,605.1 L1116.0,606.0 L1117.4,604.0 L1119.2,601.9 L1121.1,605.6 L1122.5,602.8 L1124.5,605.3 L1126.6,606.8 L1128.6,606.5 L1130.1,603.2 L1131.4,605.4 L1133.0,601.7 L1134.7,601.6 L1136.8,605.3 L1138.3,603.6 L1140.2,602.0 L1141.9,606.7 L1142.3,606.5 L1142.6,600.0 L1143.5,535.5 L1144.7,473.9 L1146.0,440.0 L1146.9,411.7 L1147.6,411.9 L1148.0,440.0 L1148.3,462.8 L1148.5,541.7 L1149.7,572.5 L1151.4,591.8 L1153.0,558.3 L1154.8,620.3 L1158.9,563.9 L1163.8,632.9 L1168.4,551.8 L1171.0,599.8 L1175.5,548.3 L1180.3,602.3 L1184.8,569.5 L1189.5,593.8 L1191.8,579.8 L1194.1,570.1 L1197.0,582.9 L1199.5,590.3 L1201.3,583.7 L1203.2,579.9 L1205.1,582.8 L1207.0,589.2 L1208.9,592.7 L1211.8,582.9 L1214.3,576.2 L1216.1,580.3 L1218.0,581.6 L1221.2,575.0 L1224.1,583.6 L1226.0,585.7 L1227.8,591.5 L1230.3,584.6 L1232.8,582.4 L1234.6,584.2 L1236.5,587.8 L1238.5,585.7 L1240.6,577.9 L1242.6,575.5 L1245.1,582.7 L1247.5,586.6 L1250.0,582.9 L1252.5,577.4 L1254.9,582.6 L1257.4,589.0 L1259.9,578.9 L1262.3,571.8 L1264.4,573.7 L1266.4,576.3 L1268.5,581.6 L1271.0,578.3 L1273.4,576.2 L1275.3,581.5 L1277.1,589.0 L1279.0,584.5 L1280.8,584.9 L1282.7,583.3 L1284.5,578.7 L1286.5,574.5 L1288.6,576.7 L1290.6,574.6 L1292.6,570.5 L1294.5,571.3 L1296.3,573.1 L1298.1,577.4 L1299.8,577.6 L1301.5,580.2 L1303.2,584.6 L1305.0,583.2 L1306.7,586.6 L1308.8,586.7 L1310.8,585.2 L1312.9,581.6 L1312.3,582.9 L1314.2,582.3 L1316.0,584.9 L1317.9,588.2 L1319.7,589.0 L1321.7,588.3 L1323.7,588.6 L1325.6,589.9 L1327.6,590.2 L1329.6,592.7 L1331.5,592.5 L1333.5,590.7 L1335.5,585.8 L1337.5,588.0 L1339.4,584.1 L1341.2,581.4 L1342.9,581.5 L1344.6,583.5 L1346.3,579.7 L1348.1,581.5 L1349.8,582.0 L1351.5,577.2 L1353.2,579.6 L1355.0,575.9 L1356.7,577.4 L1358.4,576.1 L1360.1,577.3 L1361.9,580.0 L1363.6,578.7 L1365.3,582.5 L1367.0,581.9 L1368.8,580.0 L1370.5,580.0 L1372.2,581.2 L1373.9,582.9 L1375.9,583.2 L1377.9,579.6 L1379.9,581.4 L1381.8,578.1 L1383.8,577.9 L1385.6,575.7 L1387.4,577.3 L1389.2,578.7 L1391.0,577.1 L1392.8,576.2 L1394.5,579.5 L1396.3,580.0 L1398.1,577.2 L1399.9,577.0 L1401.7,577.3 L1403.5,578.4 L1405.2,575.6 L1407.0,576.8 L1408.7,574.2 L1410.4,572.3 L1412.1,572.5 L1413.9,575.9 L1415.6,576.9 L1417.3,577.4 L1419.0,575.4 L1420.8,577.9 L1422.7,574.8 L1424.7,574.9 L1426.7,574.0 L1428.7,575.7 L1430.6,573.0 L1432.4,572.3 L1434.1,572.7 L1435.9,571.8 L1437.7,573.8 L1439.4,573.3 L1441.2,572.9 L1442.9,575.5 L1444.7,574.0 L1446.5,577.7 L1448.2,578.5 L1450.0,578.3 L1451.7,575.6 L1453.5,575.8 L1455.3,579.6 L1457.0,577.0 L1458.8,579.2 L1460.5,577.4 L1462.3,580.5 L1464.1,580.3 L1465.8,579.6 L1467.6,579.2 L1469.5,577.4 L1471.5,577.9 L1473.4,578.6 L1475.3,576.4 L1477.3,575.4 L1479.2,572.9 L1481.1,572.5 L1483.0,573.9 L1484.8,575.3 L1486.7,573.5 L1488.5,574.4 L1490.4,575.0 L1492.2,576.5 L1494.0,575.5 L1495.8,578.1 L1497.5,576.6 L1499.3,575.9 L1501.0,579.8 L1502.8,579.0 L1504.6,578.4 L1506.4,578.9 L1508.3,582.6 L1510.1,579.7 L1512.0,581.0 L1513.8,583.4 L1515.7,585.3 L1517.6,584.3 L1519.5,587.1 L1521.5,586.6 L1523.4,582.7 L1525.3,582.7 L1527.3,582.5 L1529.2,583.6 L1531.2,582.8 L1533.1,584.1 L1535.1,585.0 L1537.1,589.0 L1539.1,589.0 L1540.9,586.1 L1542.8,585.3 L1544.6,585.3 L1546.5,585.3 L1548.3,587.4 L1550.2,587.3 L1552.0,589.1 L1553.9,587.1 L1555.7,587.3 L1557.5,590.7 L1559.4,589.0 L1561.2,590.3 L1563.2,588.1 L1565.2,586.9 L1567.2,589.0 L1569.1,588.5 L1571.1,586.3 L1572.9,588.2 L1574.6,585.2 L1576.4,584.1 L1578.1,585.2 L1579.9,584.3 L1581.7,588.6 L1583.4,586.3 L1585.2,587.1 L1586.9,585.2 L1588.7,584.8 L1590.5,587.7 L1592.2,583.6 L1594.0,587.2 L1595.7,584.8 L1597.5,585.6 L1599.3,585.5 L1601.0,583.4 L1602.8,585.5 L1604.6,584.5 L1606.3,581.8 L1608.1,582.9 L1609.8,583.1 L1611.5,581.7 L1613.2,582.2 L1615.0,577.1 L1616.7,578.4" stroke="#1c1c1c" stroke-width="1.4" fill="none" stroke-linejoin="round"/>
<line x1="1146.9" y1="411.5" x2="1147.2" y2="470.0" stroke="#1c1c1c" stroke-width="1.6" />
<rect x="1001.8" y="594.2" width="25.4" height="16.6" fill="#000" stroke="none" stroke-width="1" />
<text x="1004.2" y="608.2" font-size="15.5" fill="#fff" font-weight="bold" textLength="8.0" lengthAdjust="spacingAndGlyphs" font-family='"DejaVu Sans", "Liberation Sans", sans-serif'>1</text>
<path d="M1013.5,602.6h8.5M1019,599.4l3.6,3.2l-3.6,3.2" stroke="#fff" stroke-width="1.6" fill="none" />
<rect x="1138.1" y="426.6" width="14.2" height="14.8" fill="#000" stroke="none" stroke-width="1" />
<text x="1145.2" y="438.8" font-size="13" fill="#fff" font-weight="bold" text-anchor="middle" font-family='"DejaVu Sans", "Liberation Sans", sans-serif'>T</text>
<line x1="1147.3" y1="411.0" x2="1147.3" y2="427.0" stroke="#222" stroke-width="1.2" />
<path d="M1606,548.6l7.5,-6.5v13z" stroke="none" stroke-width="0" fill="#111" />
<line x1="1612.0" y1="548.6" x2="1619.5" y2="548.6" stroke="#111" stroke-width="1.8" />
<text x="999.0" y="210.8" font-size="18" fill="#ff00ff" font-weight="bold" textLength="34.5" lengthAdjust="spacingAndGlyphs" font-family='"DejaVu Sans", "Liberation Sans", sans-serif'>Tek</text>
<text x="1040.6" y="210.8" font-size="17.5" fill="#111" textLength="137.2" lengthAdjust="spacingAndGlyphs" font-family='"DejaVu Sans", "Liberation Sans", sans-serif' stroke="#111" stroke-width="0.55">Run: 5.00GS/s</text>
<text x="1211.3" y="210.8" font-size="17.5" fill="#111" textLength="67.6" lengthAdjust="spacingAndGlyphs" font-family='"DejaVu Sans", "Liberation Sans", sans-serif' stroke="#111" stroke-width="0.55">Sample</text>
<rect x="1308.7" y="196.8" width="46.8" height="17.2" fill="#000" stroke="none" stroke-width="1" />
<text x="1310.3" y="211.0" font-size="17.5" fill="#fff" font-weight="bold" textLength="44.0" lengthAdjust="spacingAndGlyphs" font-family='"DejaVu Sans", "Liberation Sans", sans-serif'>Trig?</text>
<path d="M1177.6,215h-3.6v15.5h3.6" stroke="#5a2a6a" stroke-width="1.6" fill="none" />
<path d="M1467.6,215h3.6v15.5h-3.6" stroke="#5a2a6a" stroke-width="1.6" fill="none" />
<line x1="1177.0" y1="223.6" x2="1468.0" y2="223.6" stroke="#444" stroke-width="1.2" stroke-dasharray="1.2 1.2"/>
<path d="M1229.2,216.8h9.6M1234,216.8v12.5" stroke="#222" stroke-width="1.5" fill="none" />
<text x="1688.8" y="313.2" font-size="16.5" fill="#111" text-anchor="middle" textLength="67.5" lengthAdjust="spacingAndGlyphs" font-family='"DejaVu Sans", "Liberation Sans", sans-serif' stroke="#111" stroke-width="0.5">C1 Max</text>
<text x="1691.5" y="330.6" font-size="16.5" fill="#111" text-anchor="middle" textLength="59.0" lengthAdjust="spacingAndGlyphs" font-family='"DejaVu Sans", "Liberation Sans", sans-serif' stroke="#111" stroke-width="0.5">16.1 V</text>
<rect x="1031.4" y="709.6" width="37.2" height="17.2" fill="#000" stroke="none" stroke-width="1" />
<text x="1032.8" y="723.6" font-size="17" fill="#fff" font-weight="bold" textLength="34.5" lengthAdjust="spacingAndGlyphs" font-family='"DejaVu Sans", "Liberation Sans", sans-serif'>Ch1</text>
<text x="1094.3" y="723.3" font-size="16.5" fill="#111" textLength="59.5" lengthAdjust="spacingAndGlyphs" font-family='"DejaVu Sans", "Liberation Sans", sans-serif' stroke="#111" stroke-width="0.5">5.00 V</text>
<text x="1354.2" y="723.0" font-size="16.5" fill="#111" textLength="86.8" lengthAdjust="spacingAndGlyphs" font-family='"DejaVu Sans", "Liberation Sans", sans-serif' stroke="#111" stroke-width="0.5">M 10.0ns</text>
<text x="1457.2" y="723.0" font-size="16.5" fill="#111" textLength="34.6" lengthAdjust="spacingAndGlyphs" font-family='"DejaVu Sans", "Liberation Sans", sans-serif' stroke="#111" stroke-width="0.5">Ch1</text>
<path d="M1502,722.6h4.2l5,-11h4.6" stroke="#111" stroke-width="1.6" fill="none" />
<text x="1564.8" y="723.0" font-size="16.5" fill="#111" textLength="49.0" lengthAdjust="spacingAndGlyphs" font-family='"DejaVu Sans", "Liberation Sans", sans-serif' stroke="#111" stroke-width="0.5">4.4 V</text>
<text x="1628.0" y="726.5" font-size="16.5" fill="#111" textLength="116.2" lengthAdjust="spacingAndGlyphs" font-family='"DejaVu Sans", "Liberation Sans", sans-serif' stroke="#111" stroke-width="0.5">10 Apr 2014</text>
<text y="782.0" font-size="30.5" font-weight="bold" font-family='"Liberation Sans", "Noto Sans CJK SC", sans-serif'><tspan x="1053.0" textLength="67.6" lengthAdjust="spacingAndGlyphs">Note</tspan><tspan x="1122.2" font-size="19" font-weight="bold">：</tspan><tspan x="1150.8" textLength="496.5" lengthAdjust="spacingAndGlyphs">Data is taken with a 10x attenuator</tspan></text>
<text x="1356.5" y="819.0" font-size="30.5" fill="#000" font-weight="bold" text-anchor="middle" textLength="328.5" lengthAdjust="spacingAndGlyphs">ESD Clamping Voltage</text>
<text x="1356.0" y="854.1" font-size="30.5" fill="#000" font-weight="bold" text-anchor="middle" textLength="452.5" lengthAdjust="spacingAndGlyphs">8 kV Contact per IEC61000−4−2</text>
</g>
<g id="sec_outline">
<rect x="105.9" y="914.4" width="16.2" height="16.2" fill="#000" stroke="none" stroke-width="1" /><text x="134.6" y="930.7" font-size="32.5" fill="#000" font-weight="bold" textLength="314.5" lengthAdjust="spacingAndGlyphs">Outline Dimensions</text>
<line x1="187.4" y1="976.4" x2="447.0" y2="976.4" stroke="#1e1e1e" stroke-width="1.7" />
<line x1="187.4" y1="974.5" x2="187.4" y2="1073.0" stroke="#1e1e1e" stroke-width="1.7" />
<line x1="447.0" y1="974.5" x2="447.0" y2="1073.0" stroke="#1e1e1e" stroke-width="1.7" />
<path d="M191.5,977.4l6.3,-3.8h7.7v7.6h-7.7z" fill="#1e1e1e"/>
<path d="M443.0,977.4l-6.3,-3.8h-7.7v7.6h7.7z" fill="#1e1e1e"/>
<text x="317.2" y="970.8" font-size="18.5" fill="#2a2a2a" text-anchor="middle" textLength="9.5" lengthAdjust="spacingAndGlyphs">D</text>
<line x1="267.0" y1="1011.7" x2="298.3" y2="1011.7" stroke="#1e1e1e" stroke-width="1.7" />
<line x1="335.5" y1="1011.7" x2="368.5" y2="1011.7" stroke="#1e1e1e" stroke-width="1.7" />
<line x1="298.3" y1="1008.0" x2="298.3" y2="1025.5" stroke="#1e1e1e" stroke-width="1.7" />
<line x1="335.5" y1="1008.0" x2="335.5" y2="1025.5" stroke="#1e1e1e" stroke-width="1.7" />
<rect x="282.0" y="1009.0" width="9.0" height="5.6" fill="#1e1e1e" stroke="none" stroke-width="1" rx="1.5"/>
<rect x="343.0" y="1009.0" width="9.0" height="5.6" fill="#1e1e1e" stroke="none" stroke-width="1" rx="1.5"/>
<text x="316.2" y="1005.4" font-size="17" fill="#2a2a2a" text-anchor="middle" textLength="9.0" lengthAdjust="spacingAndGlyphs">b</text>
<line x1="138.7" y1="1028.6" x2="335.5" y2="1028.6" stroke="#1e1e1e" stroke-width="1.7" />
<line x1="139.8" y1="1028.6" x2="139.8" y2="1242.2" stroke="#1e1e1e" stroke-width="1.7" />
<line x1="138.7" y1="1242.2" x2="211.5" y2="1242.2" stroke="#1e1e1e" stroke-width="1.7" />
<path d="M139.8,1032.5l-3.8,6.3v7.7h7.6v-7.7z" fill="#1e1e1e"/>
<path d="M139.8,1238.5l-3.8,-6.3v-7.7h7.6v7.7z" fill="#1e1e1e"/>
<text x="123.3" y="1142.9" font-size="21.5" fill="#2a2a2a" text-anchor="middle" textLength="19.5" lengthAdjust="spacingAndGlyphs">E1</text>
<line x1="298.3" y1="1028.6" x2="298.3" y2="1076.5" stroke="#1e1e1e" stroke-width="1.7" />
<line x1="335.5" y1="1028.6" x2="335.5" y2="1076.5" stroke="#1e1e1e" stroke-width="1.7" />
<line x1="298.3" y1="1047.6" x2="335.5" y2="1047.6" stroke="#1e1e1e" stroke-width="1.5" />
<line x1="298.3" y1="1066.6" x2="335.5" y2="1066.6" stroke="#1e1e1e" stroke-width="3" />
<line x1="298.3" y1="1072.0" x2="335.5" y2="1072.0" stroke="#1e1e1e" stroke-width="1.3" />
<rect x="187.1" y="1077.2" width="260.0" height="116.4" fill="none" stroke="#1e1e1e" stroke-width="2.2" />
<rect x="195.2" y="1083.6" width="244.8" height="103.6" fill="none" stroke="#1e1e1e" stroke-width="1.8" />
<path d="M187.1,1077.2l8,6.4M447.1,1077.2l-7,6.4M187.1,1193.6l8,-6.4M447.1,1193.6l-7,-6.4" stroke="#1e1e1e" stroke-width="1.2" fill="none" />
<line x1="449.5" y1="1076.4" x2="497.5" y2="1076.4" stroke="#1e1e1e" stroke-width="1.7" />
<line x1="449.5" y1="1193.4" x2="497.5" y2="1193.4" stroke="#1e1e1e" stroke-width="1.7" />
<line x1="495.8" y1="1076.4" x2="495.8" y2="1193.4" stroke="#1e1e1e" stroke-width="1.7" />
<path d="M495.8,1080.0l-3.8,6.3v7.7h7.6v-7.7z" fill="#1e1e1e"/>
<path d="M495.8,1190.0l-3.8,-6.3v-7.7h7.6v7.7z" fill="#1e1e1e"/>
<text x="481.9" y="1142.9" font-size="21.5" fill="#2a2a2a" text-anchor="middle" textLength="10.0" lengthAdjust="spacingAndGlyphs">E</text>
<path d="M215.2,1193.6V1239.5q0,2.7 2.7,2.7H247.10000000000002q2.7,0 2.7,-2.7V1193.6" stroke="#1e1e1e" stroke-width="1.7" fill="none" />
<line x1="215.2" y1="1198.0" x2="249.8" y2="1198.0" stroke="#1e1e1e" stroke-width="3" />
<line x1="215.2" y1="1202.6" x2="249.8" y2="1202.6" stroke="#1e1e1e" stroke-width="1.3" />
<line x1="215.2" y1="1220.6" x2="249.8" y2="1220.6" stroke="#1e1e1e" stroke-width="1.5" />
<path d="M382.5,1193.6V1239.5q0,2.7 2.7,2.7H418.6q2.7,0 2.7,-2.7V1193.6" stroke="#1e1e1e" stroke-width="1.7" fill="none" />
<line x1="382.5" y1="1198.0" x2="421.3" y2="1198.0" stroke="#1e1e1e" stroke-width="3" />
<line x1="382.5" y1="1202.6" x2="421.3" y2="1202.6" stroke="#1e1e1e" stroke-width="1.3" />
<line x1="382.5" y1="1220.6" x2="421.3" y2="1220.6" stroke="#1e1e1e" stroke-width="1.5" />
<line x1="232.0" y1="1242.5" x2="232.0" y2="1288.5" stroke="#1e1e1e" stroke-width="1.7" />
<line x1="317.7" y1="1229.0" x2="317.7" y2="1258.0" stroke="#1e1e1e" stroke-width="1.7" />
<line x1="232.0" y1="1257.2" x2="317.7" y2="1257.2" stroke="#1e1e1e" stroke-width="1.7" />
<rect x="241.5" y="1254.4" width="10.0" height="5.6" fill="#1e1e1e" stroke="none" stroke-width="1" rx="2"/>
<rect x="299.5" y="1254.4" width="10.0" height="5.6" fill="#1e1e1e" stroke="none" stroke-width="1" rx="2"/>
<text x="273.5" y="1250.6" font-size="18" fill="#2a2a2a" text-anchor="middle" textLength="10.5" lengthAdjust="spacingAndGlyphs" font-style="italic">e</text>
<line x1="400.4" y1="1258.5" x2="400.4" y2="1288.5" stroke="#1e1e1e" stroke-width="1.7" />
<line x1="232.0" y1="1284.8" x2="400.4" y2="1284.8" stroke="#1e1e1e" stroke-width="1.7" />
<rect x="242.0" y="1282.0" width="10.5" height="5.6" fill="#1e1e1e" stroke="none" stroke-width="1" rx="2"/>
<rect x="380.6" y="1282.0" width="10.5" height="5.6" fill="#1e1e1e" stroke="none" stroke-width="1" rx="2"/>
<text x="316.2" y="1280.3" font-size="18" fill="#2a2a2a" text-anchor="middle" textLength="17.5" lengthAdjust="spacingAndGlyphs" font-style="italic">e1</text>
<line x1="166.3" y1="1135.4" x2="462.3" y2="1135.4" stroke="#2222ff" stroke-width="2.9" stroke-dasharray="51.8 4.6 3 6.7 20.3 6.6 3 6.7 21.3 5.6 3 5.6 20.4 5.6 3 5.6 20.3 6.7 3 5.6 21.3 5.7 3 5.6 21.3 5.6 3 4.6 17.5"/>
<line x1="317.6" y1="1017.2" x2="317.6" y2="1223.5" stroke="#2222ff" stroke-width="2.9" stroke-dasharray="25.5 5.5 3 5 19 7.5 3 5.3 20.6 5.5 3 8.6 20.5 5.5 3 5.5 21 4.5 3 6.5 25.3"/>
<line x1="232.6" y1="1174.6" x2="232.6" y2="1237.0" stroke="#2222ff" stroke-width="2.7" stroke-dasharray="26 4.5 3 4.5 26"/>
<line x1="400.4" y1="1173.0" x2="400.4" y2="1256.0" stroke="#2222ff" stroke-width="2.7" stroke-dasharray="53 4 3 4 19"/>
<text x="319.9" y="1334.1" font-size="25.7" fill="#484848" text-anchor="middle" textLength="116.0" lengthAdjust="spacingAndGlyphs" stroke="#484848" stroke-width="0.5">TOP VIEW</text>
<path d="M671,996.5Q675,984 698,979.3" stroke="#1e1e1e" stroke-width="2.2" fill="none" />
<path d="M684,986.8Q690,982.2 697.6,980.2" stroke="#1e1e1e" stroke-width="5.2" fill="none" />
<path d="M698.4,978.6L700.8,980 707.4,1019.5" stroke="#1e1e1e" stroke-width="2.2" fill="none" />
<line x1="709.0" y1="978.2" x2="709.0" y2="1024.0" stroke="#1e1e1e" stroke-width="2.2" />
<path d="M709,978.6H716.5L724,983.6H732.4Q738,984 742.7,991.3H757.5" stroke="#1e1e1e" stroke-width="2.2" fill="none" />
<path d="M713.5,978.8L725.5,983.6" stroke="#1e1e1e" stroke-width="5" fill="none" />
<text x="767.3" y="995.3" font-size="13" fill="#8a86b0" text-anchor="middle">θ</text>
<line x1="663.3" y1="995.5" x2="663.3" y2="1028.8" stroke="#1e1e1e" stroke-width="2.2" />
<rect x="660.6" y="1010.5" width="6.0" height="11.0" fill="#1e1e1e" stroke="none" stroke-width="1" rx="2"/>
<line x1="663.3" y1="1028.8" x2="706.0" y2="1028.8" stroke="#1e1e1e" stroke-width="2.2" />
<line x1="676.9" y1="1022.1" x2="708.7" y2="1022.1" stroke="#1e1e1e" stroke-width="2.2" />
<rect x="691.5" y="1019.2" width="10.0" height="6.0" fill="#1e1e1e" stroke="none" stroke-width="1" rx="2"/>
<line x1="722.6" y1="1019.6" x2="722.6" y2="1029.5" stroke="#1e1e1e" stroke-width="2.2" />
<path d="M722.6,1020.4L757.5,1021.4" stroke="#1e1e1e" stroke-width="2.2" fill="none" />
<rect x="731.8" y="1017.8" width="10.0" height="6.0" fill="#1e1e1e" stroke="none" stroke-width="1" rx="2"/>
<text x="766.0" y="1029.6" font-size="19.5" fill="#2a2a2a" textLength="38.5" lengthAdjust="spacingAndGlyphs">0.25</text>
<line x1="708.5" y1="1028.8" x2="722.6" y2="1028.8" stroke="#1e1e1e" stroke-width="2.2" />
<path d="M709.5,1028.8V1054.6Q710.5,1061 717.6,1065.7" stroke="#1e1e1e" stroke-width="2.2" fill="none" />
<line x1="721.6" y1="1028.8" x2="721.6" y2="1066.0" stroke="#1e1e1e" stroke-width="3" />
<line x1="663.3" y1="1065.7" x2="722.8" y2="1065.7" stroke="#1e1e1e" stroke-width="2.2" />
<line x1="663.3" y1="1065.7" x2="663.3" y2="1099.0" stroke="#1e1e1e" stroke-width="2.2" />
<rect x="660.6" y="1072.0" width="6.0" height="12.0" fill="#1e1e1e" stroke="none" stroke-width="1" rx="2"/>
<text x="648.5" y="1055.6" font-size="18.5" fill="#2a2a2a" text-anchor="middle" textLength="16.5" lengthAdjust="spacingAndGlyphs">L1</text>
<path d="M725.7,1056.9Q738.3,1057.4 744,1062.5Q748.6,1066.5 748.9,1073V1193.8" stroke="#1e1e1e" stroke-width="2.2" fill="none" />
<path d="M726.5,1068.7H735.5Q738.3,1069 738.3,1072.4V1078.6" stroke="#1e1e1e" stroke-width="2.2" fill="none" />
<path d="M713.5,1185.5V1085.2Q713.6,1083 716,1082.4L738.3,1078.3 748.9,1076 790.1,1085Q800.6,1087.5 801.6,1094V1174.5Q801.2,1181.6 795.5,1183.2L750.1,1193.9" stroke="#1e1e1e" stroke-width="2.2" fill="none" />
<path d="M713.5,1185.5Q714,1188 720.6,1189.1L732.4,1190.6 742.7,1192.8" stroke="#1e1e1e" stroke-width="2.2" fill="none" />
<line x1="697.6" y1="1135.2" x2="821.8" y2="1135.2" stroke="#2222ff" stroke-width="2.6" stroke-dasharray="21.5 5.5 3 5" stroke-dashoffset="3"/>
<path d="M748.9,1193.6Q750.6,1201 746,1206.5Q742.7,1210 738,1211.5L729,1213.8Q720.6,1216.5 720.6,1222V1283.5" stroke="#1e1e1e" stroke-width="2.2" fill="none" />
<path d="M738.3,1193.6Q739,1200.5 733,1202L723,1204.2Q711.5,1208 709.2,1220.2V1283.5" stroke="#1e1e1e" stroke-width="2.2" fill="none" />
<line x1="668.1" y1="1193.9" x2="749.0" y2="1193.9" stroke="#1e1e1e" stroke-width="2.6" />
<line x1="670.3" y1="1160.3" x2="670.3" y2="1193.9" stroke="#1e1e1e" stroke-width="2.2" />
<rect x="667.5" y="1175.8" width="6.0" height="11.0" fill="#1e1e1e" stroke="none" stroke-width="1" rx="2"/>
<text x="668.8" y="1224.8" font-size="19.5" fill="#2a2a2a" text-anchor="middle" textLength="9.0" lengthAdjust="spacingAndGlyphs">L</text>
<line x1="668.1" y1="1241.6" x2="722.2" y2="1241.6" stroke="#1e1e1e" stroke-width="2.2" />
<line x1="670.3" y1="1241.6" x2="670.3" y2="1275.0" stroke="#1e1e1e" stroke-width="2.2" />
<rect x="667.5" y="1248.3" width="6.0" height="12.0" fill="#1e1e1e" stroke="none" stroke-width="1" rx="2"/>
<g transform="translate(668.4,1271) rotate(-90)"><text x="0.0" y="0.0" font-size="17" fill="#2a2a2a" text-anchor="middle">c</text></g>
<line x1="651.8" y1="1283.0" x2="709.2" y2="1283.0" stroke="#1e1e1e" stroke-width="2.2" />
<rect x="691.0" y="1280.0" width="10.5" height="6.0" fill="#1e1e1e" stroke="none" stroke-width="1" rx="2"/>
<line x1="720.6" y1="1283.0" x2="754.6" y2="1283.0" stroke="#1e1e1e" stroke-width="2.2" />
<rect x="729.2" y="1280.0" width="10.0" height="6.0" fill="#1e1e1e" stroke="none" stroke-width="1" rx="2"/>
<text x="752.3" y="1345.2" font-size="23.8" fill="#484848" text-anchor="middle" textLength="118.0" lengthAdjust="spacingAndGlyphs" stroke="#484848" stroke-width="0.5">SIDE VIEW</text>
<line x1="142.0" y1="1412.5" x2="513.4" y2="1412.5" stroke="#1e1e1e" stroke-width="2.3000000000000003" />
<path d="M142,1412.5Q137.5,1416 136,1424Q130.5,1448 128.5,1472.2Q130,1494 135.2,1512" stroke="#1e1e1e" stroke-width="2.1" fill="none" />
<path d="M406.3,1413Q411.5,1416 413,1424Q419.5,1448 421.3,1472.2Q420,1494 414.5,1512" stroke="#1e1e1e" stroke-width="2.1" fill="none" />
<line x1="128.5" y1="1472.2" x2="421.3" y2="1472.2" stroke="#1e1e1e" stroke-width="2.1" />
<line x1="135.2" y1="1512.0" x2="474.1" y2="1512.0" stroke="#1e1e1e" stroke-width="2.1" />
<line x1="391.4" y1="1517.5" x2="513.4" y2="1517.5" stroke="#1e1e1e" stroke-width="2.1" />
<rect x="156.9" y="1472.2" width="41.2" height="45.3" fill="#fff" stroke="#1e1e1e" stroke-width="2.1" />
<line x1="156.9" y1="1484.4" x2="198.1" y2="1484.4" stroke="#1e1e1e" stroke-width="2" />
<line x1="156.9" y1="1497.1" x2="198.1" y2="1497.1" stroke="#1e1e1e" stroke-width="2" />
<line x1="156.9" y1="1504.2" x2="198.1" y2="1504.2" stroke="#1e1e1e" stroke-width="2" />
<rect x="348.1" y="1472.2" width="43.3" height="45.3" fill="#fff" stroke="#1e1e1e" stroke-width="2.1" />
<line x1="348.1" y1="1484.4" x2="391.4" y2="1484.4" stroke="#1e1e1e" stroke-width="2" />
<line x1="348.1" y1="1497.1" x2="391.4" y2="1497.1" stroke="#1e1e1e" stroke-width="2" />
<line x1="348.1" y1="1504.2" x2="391.4" y2="1504.2" stroke="#1e1e1e" stroke-width="2" />
<path d="M253.0,1512L256.6,1517.4H294.8V1512" stroke="#1e1e1e" stroke-width="2" fill="none" />
<line x1="274.3" y1="1394.5" x2="274.3" y2="1534.8" stroke="#2222ff" stroke-width="2.9" stroke-dasharray="21 7 3 6 24.5 6 3 6 26.5 6 3 5.5 22"/>
<line x1="177.9" y1="1456.2" x2="177.9" y2="1532.8" stroke="#2222ff" stroke-width="2.8" stroke-dasharray="29 6.2 42"/>
<line x1="371.1" y1="1456.2" x2="371.1" y2="1532.8" stroke="#2222ff" stroke-width="2.8" stroke-dasharray="29 6.2 42"/>
<line x1="472.8" y1="1412.5" x2="472.8" y2="1512.0" stroke="#1e1e1e" stroke-width="2.1" />
<path d="M472.8,1416.0l-3.2,6.3v7.7h6.4v-7.7z" fill="#1e1e1e"/>
<path d="M472.8,1508.5l-3.2,-6.3v-7.7h6.4v7.7z" fill="#1e1e1e"/>
<line x1="510.7" y1="1412.5" x2="510.7" y2="1517.5" stroke="#1e1e1e" stroke-width="2.1" />
<path d="M510.7,1416.0l-3.2,6.3v7.7h6.4v-7.7z" fill="#1e1e1e"/>
<path d="M510.7,1514.0l-3.2,-6.3v-7.7h6.4v7.7z" fill="#1e1e1e"/>
<line x1="443.8" y1="1474.9" x2="443.8" y2="1512.0" stroke="#1e1e1e" stroke-width="2.1" />
<path d="M443.8,1508.5l-3.2,-6.3v-7.7h6.4v7.7z" fill="#1e1e1e"/>
<line x1="443.8" y1="1517.5" x2="443.8" y2="1556.2" stroke="#1e1e1e" stroke-width="2.1" />
<path d="M443.8,1521.0l-3.2,6.3v7.7h6.4v-7.7z" fill="#1e1e1e"/>
<line x1="417.2" y1="1556.2" x2="444.6" y2="1556.2" stroke="#1e1e1e" stroke-width="2.1" />
<text x="450.4" y="1470.8" font-size="23.5" fill="#2a2a2a" text-anchor="middle" textLength="24.0" lengthAdjust="spacingAndGlyphs">A2</text>
<text x="495.8" y="1473.5" font-size="23.5" fill="#2a2a2a" text-anchor="middle" textLength="11.5" lengthAdjust="spacingAndGlyphs">A</text>
<text x="424.6" y="1548.1" font-size="21.5" fill="#2a2a2a" text-anchor="middle" textLength="21.0" lengthAdjust="spacingAndGlyphs">A1</text>
<text x="252.5" y="1603.7" font-size="25.7" fill="#484848" text-anchor="middle" textLength="133.5" lengthAdjust="spacingAndGlyphs" stroke="#484848" stroke-width="0.5">SIDE VIEW</text>
</g>
<g id="sec_table">
<rect x="908.5" y="991.4" width="561.2" height="635.0" fill="none" stroke="#1c1c1c" stroke-width="1.9" />
<line x1="908.5" y1="1031.0" x2="1469.7" y2="1031.0" stroke="#1c1c1c" stroke-width="1.9" />
<line x1="1020.3" y1="1069.1" x2="1469.7" y2="1069.1" stroke="#1c1c1c" stroke-width="1.9" />
<line x1="908.5" y1="1109.4" x2="1469.7" y2="1109.4" stroke="#1c1c1c" stroke-width="1.9" />
<line x1="908.5" y1="1149.3" x2="1469.7" y2="1149.3" stroke="#1c1c1c" stroke-width="1.9" />
<line x1="908.5" y1="1189.2" x2="1469.7" y2="1189.2" stroke="#1c1c1c" stroke-width="1.9" />
<line x1="908.5" y1="1229.5" x2="1469.7" y2="1229.5" stroke="#1c1c1c" stroke-width="1.9" />
<line x1="908.5" y1="1269.4" x2="1469.7" y2="1269.4" stroke="#1c1c1c" stroke-width="1.9" />
<line x1="908.5" y1="1309.0" x2="1469.7" y2="1309.0" stroke="#1c1c1c" stroke-width="1.9" />
<line x1="908.5" y1="1349.1" x2="1469.7" y2="1349.1" stroke="#1c1c1c" stroke-width="1.9" />
<line x1="908.5" y1="1389.1" x2="1469.7" y2="1389.1" stroke="#1c1c1c" stroke-width="1.9" />
<line x1="908.5" y1="1429.4" x2="1469.7" y2="1429.4" stroke="#1c1c1c" stroke-width="1.9" />
<line x1="908.5" y1="1468.2" x2="1469.7" y2="1468.2" stroke="#1c1c1c" stroke-width="1.9" />
<line x1="908.5" y1="1507.4" x2="1469.7" y2="1507.4" stroke="#1c1c1c" stroke-width="1.9" />
<line x1="908.5" y1="1546.2" x2="1469.7" y2="1546.2" stroke="#1c1c1c" stroke-width="1.9" />
<line x1="908.5" y1="1586.5" x2="1469.7" y2="1586.5" stroke="#1c1c1c" stroke-width="1.9" />
<line x1="1020.3" y1="1031.0" x2="1020.3" y2="1626.4" stroke="#1c1c1c" stroke-width="1.9" />
<line x1="1245.0" y1="1031.0" x2="1245.0" y2="1626.4" stroke="#1c1c1c" stroke-width="1.9" />
<line x1="1132.9" y1="1069.1" x2="1132.9" y2="1429.4" stroke="#1c1c1c" stroke-width="1.9" />
<line x1="1132.9" y1="1468.2" x2="1132.9" y2="1507.4" stroke="#1c1c1c" stroke-width="1.9" />
<line x1="1132.9" y1="1546.2" x2="1132.9" y2="1626.4" stroke="#1c1c1c" stroke-width="1.9" />
<line x1="1357.7" y1="1069.1" x2="1357.7" y2="1429.4" stroke="#1c1c1c" stroke-width="1.9" />
<line x1="1357.7" y1="1468.2" x2="1357.7" y2="1507.4" stroke="#1c1c1c" stroke-width="1.9" />
<line x1="1357.7" y1="1546.2" x2="1357.7" y2="1626.4" stroke="#1c1c1c" stroke-width="1.9" />
<text x="1189.1" y="1018.3" font-size="19" fill="#2e2e2e" text-anchor="middle" textLength="113.0" lengthAdjust="spacingAndGlyphs">DIMENSIONS</text>
<text x="963.9" y="1076.4" font-size="19" fill="#2e2e2e" text-anchor="middle" textLength="70.0" lengthAdjust="spacingAndGlyphs">SYMBOL</text>
<text x="1133.0" y="1058.7" font-size="23" fill="#2e2e2e" text-anchor="middle" textLength="70.0" lengthAdjust="spacingAndGlyphs">INCHES</text>
<text x="1357.3" y="1058.7" font-size="23" fill="#2e2e2e" text-anchor="middle" textLength="91.0" lengthAdjust="spacingAndGlyphs">Millimeter</text>
<text x="1076.6" y="1096.5" font-size="19" fill="#2e2e2e" text-anchor="middle" textLength="37.0" lengthAdjust="spacingAndGlyphs">MIN.</text>
<text x="1189.5" y="1096.5" font-size="19" fill="#2e2e2e" text-anchor="middle" textLength="41.5" lengthAdjust="spacingAndGlyphs">MAX.</text>
<text x="1301.3" y="1096.5" font-size="19" fill="#2e2e2e" text-anchor="middle" textLength="37.0" lengthAdjust="spacingAndGlyphs">MIN.</text>
<text x="1414.3" y="1096.5" font-size="19" fill="#2e2e2e" text-anchor="middle" textLength="41.5" lengthAdjust="spacingAndGlyphs">MAX.</text>
<text x="964.4" y="1135.8" font-size="18" fill="#2e2e2e" text-anchor="middle" textLength="10.0" lengthAdjust="spacingAndGlyphs">A</text>
<text x="1076.6" y="1135.8" font-size="18" fill="#2e2e2e" text-anchor="middle" textLength="48.0" lengthAdjust="spacingAndGlyphs">0.035</text>
<text x="1189.0" y="1135.8" font-size="18" fill="#2e2e2e" text-anchor="middle" textLength="48.0" lengthAdjust="spacingAndGlyphs">0.045</text>
<text x="1301.3" y="1135.8" font-size="18" fill="#2e2e2e" text-anchor="middle" textLength="48.0" lengthAdjust="spacingAndGlyphs">0.900</text>
<text x="1413.7" y="1135.8" font-size="18" fill="#2e2e2e" text-anchor="middle" textLength="48.0" lengthAdjust="spacingAndGlyphs">1.150</text>
<text x="964.4" y="1175.7" font-size="18" fill="#2e2e2e" text-anchor="middle" textLength="19.0" lengthAdjust="spacingAndGlyphs">A1</text>
<text x="1076.6" y="1175.7" font-size="18" fill="#2e2e2e" text-anchor="middle" textLength="48.0" lengthAdjust="spacingAndGlyphs">0.000</text>
<text x="1189.0" y="1175.7" font-size="18" fill="#2e2e2e" text-anchor="middle" textLength="48.0" lengthAdjust="spacingAndGlyphs">0.004</text>
<text x="1301.3" y="1175.7" font-size="18" fill="#2e2e2e" text-anchor="middle" textLength="48.0" lengthAdjust="spacingAndGlyphs">0.000</text>
<text x="1413.7" y="1175.7" font-size="18" fill="#2e2e2e" text-anchor="middle" textLength="48.0" lengthAdjust="spacingAndGlyphs">0.100</text>
<text x="964.4" y="1215.8" font-size="18" fill="#2e2e2e" text-anchor="middle" textLength="19.0" lengthAdjust="spacingAndGlyphs">A2</text>
<text x="1076.6" y="1215.8" font-size="18" fill="#2e2e2e" text-anchor="middle" textLength="48.0" lengthAdjust="spacingAndGlyphs">0.035</text>
<text x="1189.0" y="1215.8" font-size="18" fill="#2e2e2e" text-anchor="middle" textLength="48.0" lengthAdjust="spacingAndGlyphs">0.041</text>
<text x="1301.3" y="1215.8" font-size="18" fill="#2e2e2e" text-anchor="middle" textLength="48.0" lengthAdjust="spacingAndGlyphs">0.900</text>
<text x="1413.7" y="1215.8" font-size="18" fill="#2e2e2e" text-anchor="middle" textLength="48.0" lengthAdjust="spacingAndGlyphs">1.050</text>
<text x="964.4" y="1255.9" font-size="18" fill="#2e2e2e" text-anchor="middle" textLength="10.0" lengthAdjust="spacingAndGlyphs">b</text>
<text x="1076.6" y="1255.9" font-size="18" fill="#2e2e2e" text-anchor="middle" textLength="48.0" lengthAdjust="spacingAndGlyphs">0.012</text>
<text x="1189.0" y="1255.9" font-size="18" fill="#2e2e2e" text-anchor="middle" textLength="48.0" lengthAdjust="spacingAndGlyphs">0.020</text>
<text x="1301.3" y="1255.9" font-size="18" fill="#2e2e2e" text-anchor="middle" textLength="48.0" lengthAdjust="spacingAndGlyphs">0.300</text>
<text x="1413.7" y="1255.9" font-size="18" fill="#2e2e2e" text-anchor="middle" textLength="48.0" lengthAdjust="spacingAndGlyphs">0.500</text>
<text x="964.4" y="1295.6" font-size="18" fill="#2e2e2e" text-anchor="middle" textLength="10.0" lengthAdjust="spacingAndGlyphs">c</text>
<text x="1076.6" y="1295.7" font-size="18" fill="#2e2e2e" text-anchor="middle" textLength="48.0" lengthAdjust="spacingAndGlyphs">0.004</text>
<text x="1189.0" y="1295.7" font-size="18" fill="#2e2e2e" text-anchor="middle" textLength="48.0" lengthAdjust="spacingAndGlyphs">0.008</text>
<text x="1301.3" y="1295.7" font-size="18" fill="#2e2e2e" text-anchor="middle" textLength="48.0" lengthAdjust="spacingAndGlyphs">0.100</text>
<text x="1413.7" y="1295.7" font-size="18" fill="#2e2e2e" text-anchor="middle" textLength="48.0" lengthAdjust="spacingAndGlyphs">0.200</text>
<text x="964.4" y="1335.5" font-size="18" fill="#2e2e2e" text-anchor="middle" textLength="10.0" lengthAdjust="spacingAndGlyphs">D</text>
<text x="1076.6" y="1335.5" font-size="18" fill="#2e2e2e" text-anchor="middle" textLength="48.0" lengthAdjust="spacingAndGlyphs">0.110</text>
<text x="1189.0" y="1335.5" font-size="18" fill="#2e2e2e" text-anchor="middle" textLength="48.0" lengthAdjust="spacingAndGlyphs">0.118</text>
<text x="1301.3" y="1335.5" font-size="18" fill="#2e2e2e" text-anchor="middle" textLength="48.0" lengthAdjust="spacingAndGlyphs">2.800</text>
<text x="1413.7" y="1335.5" font-size="18" fill="#2e2e2e" text-anchor="middle" textLength="48.0" lengthAdjust="spacingAndGlyphs">3.000</text>
<text x="964.4" y="1375.5" font-size="18" fill="#2e2e2e" text-anchor="middle" textLength="10.0" lengthAdjust="spacingAndGlyphs">E</text>
<text x="1076.6" y="1375.6" font-size="18" fill="#2e2e2e" text-anchor="middle" textLength="48.0" lengthAdjust="spacingAndGlyphs">0.047</text>
<text x="1189.0" y="1375.6" font-size="18" fill="#2e2e2e" text-anchor="middle" textLength="48.0" lengthAdjust="spacingAndGlyphs">0.055</text>
<text x="1301.3" y="1375.6" font-size="18" fill="#2e2e2e" text-anchor="middle" textLength="48.0" lengthAdjust="spacingAndGlyphs">1.200</text>
<text x="1413.7" y="1375.6" font-size="18" fill="#2e2e2e" text-anchor="middle" textLength="48.0" lengthAdjust="spacingAndGlyphs">1.400</text>
<text x="964.4" y="1415.7" font-size="18" fill="#2e2e2e" text-anchor="middle" textLength="19.0" lengthAdjust="spacingAndGlyphs">E1</text>
<text x="1076.6" y="1415.7" font-size="18" fill="#2e2e2e" text-anchor="middle" textLength="48.0" lengthAdjust="spacingAndGlyphs">0.089</text>
<text x="1189.0" y="1415.7" font-size="18" fill="#2e2e2e" text-anchor="middle" textLength="48.0" lengthAdjust="spacingAndGlyphs">0.100</text>
<text x="1301.3" y="1415.7" font-size="18" fill="#2e2e2e" text-anchor="middle" textLength="48.0" lengthAdjust="spacingAndGlyphs">2.250</text>
<text x="1413.7" y="1415.7" font-size="18" fill="#2e2e2e" text-anchor="middle" textLength="48.0" lengthAdjust="spacingAndGlyphs">2.550</text>
<text x="964.4" y="1455.2" font-size="18" fill="#2e2e2e" text-anchor="middle" textLength="10.0" lengthAdjust="spacingAndGlyphs" font-style="italic">e</text>
<text x="1132.7" y="1455.3" font-size="18" fill="#2e2e2e" text-anchor="middle" textLength="86.0" lengthAdjust="spacingAndGlyphs">0.037TYP</text>
<text x="1357.3" y="1455.3" font-size="18" fill="#2e2e2e" text-anchor="middle" textLength="86.0" lengthAdjust="spacingAndGlyphs">0.950TYP</text>
<text x="964.4" y="1494.2" font-size="18" fill="#2e2e2e" text-anchor="middle" textLength="19.0" lengthAdjust="spacingAndGlyphs" font-style="italic">e1</text>
<text x="1076.6" y="1494.3" font-size="18" fill="#2e2e2e" text-anchor="middle" textLength="48.0" lengthAdjust="spacingAndGlyphs">0.071</text>
<text x="1189.0" y="1494.3" font-size="18" fill="#2e2e2e" text-anchor="middle" textLength="48.0" lengthAdjust="spacingAndGlyphs">0.079</text>
<text x="1301.3" y="1494.3" font-size="18" fill="#2e2e2e" text-anchor="middle" textLength="48.0" lengthAdjust="spacingAndGlyphs">1.800</text>
<text x="1413.7" y="1494.3" font-size="18" fill="#2e2e2e" text-anchor="middle" textLength="48.0" lengthAdjust="spacingAndGlyphs">2.000</text>
<text x="964.4" y="1533.2" font-size="18" fill="#2e2e2e" text-anchor="middle" textLength="10.0" lengthAdjust="spacingAndGlyphs">L</text>
<text x="1132.7" y="1533.3" font-size="18" fill="#2e2e2e" text-anchor="middle" textLength="86.0" lengthAdjust="spacingAndGlyphs">0.022REF</text>
<text x="1357.3" y="1533.3" font-size="18" fill="#2e2e2e" text-anchor="middle" textLength="86.0" lengthAdjust="spacingAndGlyphs">0.550REF</text>
<text x="964.4" y="1572.8" font-size="18" fill="#2e2e2e" text-anchor="middle" textLength="19.0" lengthAdjust="spacingAndGlyphs">L1</text>
<text x="1076.6" y="1572.8" font-size="18" fill="#2e2e2e" text-anchor="middle" textLength="48.0" lengthAdjust="spacingAndGlyphs">0.012</text>
<text x="1189.0" y="1572.8" font-size="18" fill="#2e2e2e" text-anchor="middle" textLength="48.0" lengthAdjust="spacingAndGlyphs">0.020</text>
<text x="1301.3" y="1572.8" font-size="18" fill="#2e2e2e" text-anchor="middle" textLength="48.0" lengthAdjust="spacingAndGlyphs">0.300</text>
<text x="1413.7" y="1572.8" font-size="18" fill="#2e2e2e" text-anchor="middle" textLength="48.0" lengthAdjust="spacingAndGlyphs">0.500</text>
<text x="964.4" y="1610.5" font-size="13" fill="#8a86b0" text-anchor="middle">θ</text>
<text x="1076.6" y="1612.9" font-size="18" fill="#2e2e2e" text-anchor="middle" textLength="19.0" lengthAdjust="spacingAndGlyphs">0°</text>
<text x="1189.0" y="1612.9" font-size="18" fill="#2e2e2e" text-anchor="middle" textLength="19.0" lengthAdjust="spacingAndGlyphs">8°</text>
<text x="1301.3" y="1612.9" font-size="18" fill="#2e2e2e" text-anchor="middle" textLength="19.0" lengthAdjust="spacingAndGlyphs">0°</text>
<text x="1413.7" y="1612.9" font-size="18" fill="#2e2e2e" text-anchor="middle" textLength="19.0" lengthAdjust="spacingAndGlyphs">8°</text>
</g>
<g id="sec_foot">
<rect x="105.6" y="1679.3" width="16.4" height="16.4" fill="#000" stroke="none" stroke-width="1" /><text x="136.4" y="1695.7" font-size="32.5" fill="#000" font-weight="bold" textLength="308.5" lengthAdjust="spacingAndGlyphs">Soldering Footprint</text>
<rect x="247.0" y="1772.0" width="84.8" height="95.6" fill="#c0c0c0" stroke="#1e1e1e" stroke-width="2.2" />
<rect x="146.9" y="1982.8" width="85.6" height="94.6" fill="#c0c0c0" stroke="#1e1e1e" stroke-width="2.2" />
<rect x="346.5" y="1982.8" width="83.8" height="94.6" fill="#c0c0c0" stroke="#1e1e1e" stroke-width="2.2" />
<line x1="247.1" y1="1722.8" x2="247.1" y2="1767.2" stroke="#1e1e1e" stroke-width="2.0" />
<line x1="331.7" y1="1722.8" x2="331.7" y2="1767.2" stroke="#1e1e1e" stroke-width="2.0" />
<line x1="247.1" y1="1738.9" x2="432.5" y2="1738.9" stroke="#1e1e1e" stroke-width="2.0" />
<rect x="255.8" y="1736.3" width="10.6" height="5.2" fill="#1e1e1e" stroke="none" stroke-width="1" rx="2"/>
<rect x="310.2" y="1736.3" width="11.6" height="5.2" fill="#1e1e1e" stroke="none" stroke-width="1" rx="2"/>
<text x="391.6" y="1730.2" font-size="26" fill="#3a3a3a" text-anchor="middle" textLength="70.5" lengthAdjust="spacingAndGlyphs">0.800</text>
<line x1="156.0" y1="1771.9" x2="241.0" y2="1771.9" stroke="#1e1e1e" stroke-width="2.0" />
<line x1="156.0" y1="1867.4" x2="241.0" y2="1867.4" stroke="#1e1e1e" stroke-width="2.0" />
<line x1="172.6" y1="1771.9" x2="172.6" y2="1867.4" stroke="#1e1e1e" stroke-width="2.0" />
<rect x="169.8" y="1783.5" width="5.6" height="11.0" fill="#1e1e1e" stroke="none" stroke-width="1" rx="2"/>
<rect x="169.8" y="1848.0" width="5.6" height="11.0" fill="#1e1e1e" stroke="none" stroke-width="1" rx="2"/>
<g transform="translate(164.0,1820.7) rotate(-90)"><text x="0.0" y="0.0" font-size="32" fill="#3a3a3a" text-anchor="middle" textLength="72.0" lengthAdjust="spacingAndGlyphs">0.900</text></g>
<line x1="225.1" y1="1821.0" x2="332.0" y2="1821.0" stroke="#2222ff" stroke-width="2.8" stroke-dasharray="15 16 26 6 4 8 60"/>
<line x1="335.1" y1="1821.3" x2="492.2" y2="1821.3" stroke="#1e1e1e" stroke-width="2.0" />
<line x1="288.4" y1="1753.7" x2="288.4" y2="2025.7" stroke="#2222ff" stroke-width="2.8" stroke-dasharray="12 7 41 6 4 6 33 8 22 10 4 8 38 7 4 7 40 6 4 6 40"/>
<line x1="288.0" y1="2033.5" x2="288.0" y2="2140.4" stroke="#1e1e1e" stroke-width="2.0" />
<line x1="122.4" y1="2028.5" x2="434.1" y2="2028.5" stroke="#2222ff" stroke-width="2.8" stroke-dasharray="37 6 4 6 32 6 4 6"/>
<line x1="434.1" y1="2028.8" x2="492.2" y2="2028.8" stroke="#1e1e1e" stroke-width="2.3" />
<line x1="188.7" y1="1963.8" x2="188.7" y2="2071.3" stroke="#2222ff" stroke-width="2.8" stroke-dasharray="13 7 35 6 4 6 40"/>
<line x1="388.5" y1="1955.9" x2="388.5" y2="2079.0" stroke="#2222ff" stroke-width="2.8" stroke-dasharray="13 8 41 6 4 6 45"/>
<line x1="188.4" y1="2078.2" x2="188.4" y2="2140.4" stroke="#1e1e1e" stroke-width="2.0" />
<line x1="388.5" y1="2078.2" x2="388.5" y2="2140.4" stroke="#1e1e1e" stroke-width="2.0" />
<line x1="475.3" y1="1821.3" x2="475.3" y2="2028.8" stroke="#1e1e1e" stroke-width="2.0" />
<rect x="472.3" y="1830.0" width="6.0" height="11.0" fill="#1e1e1e" stroke="none" stroke-width="1" rx="2"/>
<rect x="472.3" y="2010.0" width="6.0" height="11.0" fill="#1e1e1e" stroke="none" stroke-width="1" rx="2"/>
<g transform="translate(467.2,1924.8) rotate(-90)"><text x="0.0" y="0.0" font-size="32" fill="#3a3a3a" text-anchor="middle" textLength="71.0" lengthAdjust="spacingAndGlyphs">2.000</text></g>
<line x1="188.4" y1="2122.2" x2="388.5" y2="2122.2" stroke="#1e1e1e" stroke-width="2.0" />
<path d="M190.5,2122.2l6.8,-3.6h8.2v7.2h-8.2z" fill="#1e1e1e"/>
<path d="M286.0,2122.2l-6.8,-3.6h-8.2v7.2h8.2z" fill="#1e1e1e"/>
<path d="M290.0,2122.2l6.8,-3.6h8.2v7.2h-8.2z" fill="#1e1e1e"/>
<path d="M386.4,2122.2l-6.8,-3.6h-8.2v7.2h8.2z" fill="#1e1e1e"/>
<text x="238.5" y="2115.2" font-size="31" fill="#3a3a3a" text-anchor="middle" textLength="75.5" lengthAdjust="spacingAndGlyphs">0.950</text>
<text x="337.8" y="2115.2" font-size="31" fill="#3a3a3a" text-anchor="middle" textLength="75.0" lengthAdjust="spacingAndGlyphs">0.950</text>
<g transform="translate(427.2,2170.7) scale(0.85,1)"><text x="0" y="0" font-size="29.5" fill="#4a4a4a" stroke="#4a4a4a" stroke-width="0.4" textLength="171" lengthAdjust="spacing">UNIT: mm</text></g>
<text x="898.2" y="2386.0" font-size="30.5" fill="#000" text-anchor="middle" textLength="63.0" lengthAdjust="spacingAndGlyphs">3 / 4</text>
<rect x="77.0" y="2406.0" width="1632.0" height="3.0" fill="#000" stroke="none" stroke-width="1" />
</g>
</svg>
</body></html>
